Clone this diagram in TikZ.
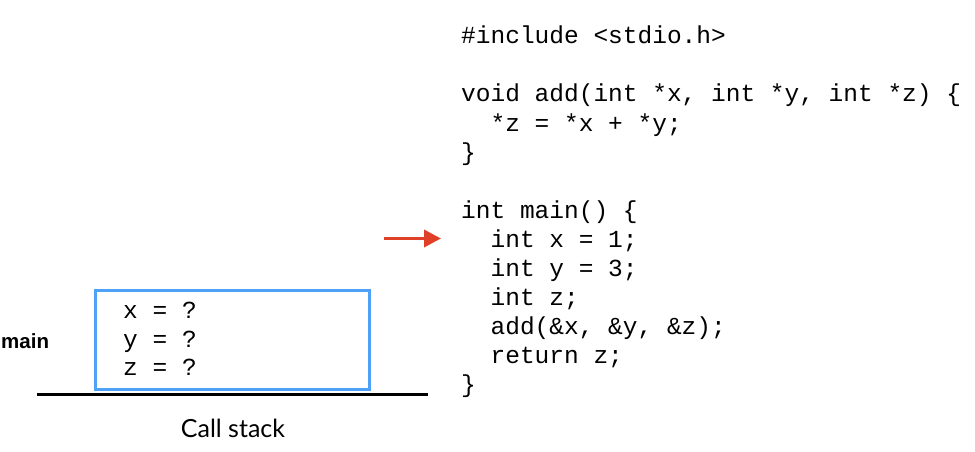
\documentclass[tikz,border=0pt]{standalone}
\usepackage{fontspec}
\usetikzlibrary{arrows.meta,positioning}
\newfontfamily\codefont{Liberation Mono}
\newfontfamily\labelfont{Liberation Sans}
\newfontfamily\captionfont{Lato}
\definecolor{frameblue}{HTML}{4DA2F7}
\definecolor{pointerred}{HTML}{DF4128}

\tikzstyle{codeLine} = [anchor=base west, inner sep=0pt, font=\codefont\fontsize{24.5}{29}\selectfont]
\tikzstyle{frameBox} = [draw=frameblue, line width=3pt]
\tikzstyle{stackLine} = [draw=black, line width=3pt]
\tikzstyle{arrow} = [draw=pointerred, line width=3.5pt, -{Triangle[length=17pt 0,width=17pt 0]}]

\begin{document}
\begin{tikzpicture}[x=1pt,y=-1pt]
    \useasboundingbox (0,0) rectangle (975,452);

    % source code
    \node (include)[codeLine] at (461,44) {\#include <stdio.h>};
    \node (addhead)[codeLine] at (461,102) {void add(int *x, int *y, int *z) \{};
    \node (addbody)[codeLine] at (461,131) {\ \ *z = *x + *y;};
    \node (addend)[codeLine] at (461,160) {\}};
    \node (mainhead)[codeLine] at (461,218) {int main() \{};
    \node (declx)[codeLine] at (461,247) {\ \ int x = 1;};
    \node (decly)[codeLine] at (461,276) {\ \ int y = 3;};
    \node (declz)[codeLine] at (461,305) {\ \ int z;};
    \node (calladd)[codeLine] at (461,334) {\ \ add(\&x, \&y, \&z);};
    \node (ret)[codeLine] at (461,363) {\ \ return z;};
    \node (mainend)[codeLine] at (461,392) {\}};

    % call stack
    \draw[frameBox] (95.5,290.5) rectangle (369.5,389.5);
    \node (varx)[codeLine] at (123,318) {x = ?};
    \node (vary)[codeLine] at (123,347) {y = ?};
    \node (varz)[codeLine] at (123,375) {z = ?};
    \node (framename)[anchor=base west, inner sep=0pt, font=\labelfont\bfseries\fontsize{20.5}{24}\selectfont] at (1,348) {main};
    \coordinate (stackLeft) at (37,394.5);
    \coordinate (stackRight) at (428,394.5);
    \draw[stackLine] (stackLeft) -- (stackRight);
    \node (stacklabel)[anchor=base, inner sep=0pt, font=\captionfont\fontsize{25}{30}\selectfont] at (233,437) {Call stack};

    % current line
    \coordinate (pointerStart) at (384,238.5);
    \draw[arrow] (pointerStart) -- ([xshift=-20pt]pointerStart -| declx.west);
\end{tikzpicture}
\end{document}
